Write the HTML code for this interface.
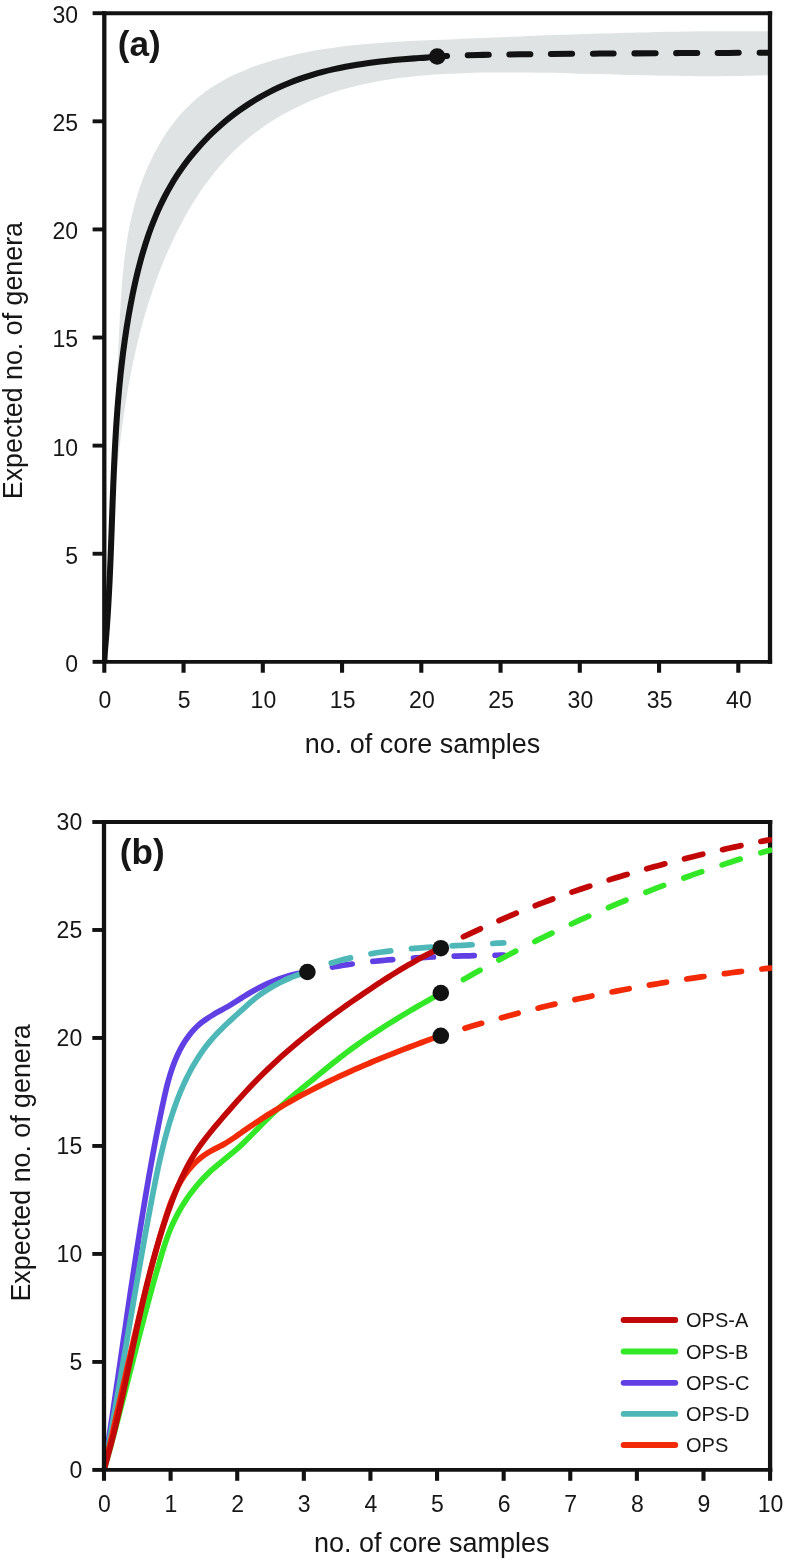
<!DOCTYPE html>
<html><head><meta charset="utf-8"><title>Rarefaction curves</title>
<style>
html,body{margin:0;padding:0;background:#fff;}
body{width:786px;height:1561px;overflow:hidden;}
svg{display:block;will-change:transform;}
.t{font-family:"Liberation Sans",sans-serif;fill:#161616;}
</style></head><body>
<svg width="786" height="1561" viewBox="0 0 786 1561" role="img" aria-label="Rarefaction curves: expected number of genera versus number of core samples">
<rect x="0" y="0" width="786" height="1561" fill="#ffffff"/>
<defs>
<clipPath id="ca"><rect x="102.30" y="11.20" width="669.70" height="652.65"/></clipPath>
<clipPath id="cb"><rect x="102.00" y="820.00" width="670.10" height="651.90"/></clipPath>
</defs>
<path d="M104.04,662.03 C104.20,659.81 104.69,653.17 104.99,648.76 C105.30,644.34 105.60,639.92 105.88,635.51 C106.17,631.10 106.45,626.70 106.72,622.30 C106.99,617.90 107.25,613.50 107.50,609.11 C107.75,604.72 107.99,600.33 108.23,595.94 C108.47,591.56 108.69,587.18 108.92,582.80 C109.14,578.42 109.35,574.05 109.56,569.67 C109.77,565.30 109.97,560.93 110.17,556.57 C110.37,552.20 110.56,547.84 110.75,543.47 C110.94,539.11 111.12,534.75 111.30,530.39 C111.48,526.03 111.65,521.68 111.82,517.32 C111.99,512.97 112.16,508.61 112.33,504.26 C112.49,499.91 112.66,495.56 112.82,491.21 C112.98,486.86 113.14,482.51 113.30,478.16 C113.45,473.81 113.61,469.46 113.77,465.11 C113.92,460.76 114.08,456.42 114.23,452.07 C114.39,447.72 114.55,443.37 114.70,439.02 C114.86,434.67 115.02,430.32 115.18,425.97 C115.34,421.62 115.50,417.26 115.66,412.91 C115.83,408.56 115.99,404.20 116.16,399.85 C116.33,395.49 116.50,391.13 116.67,386.77 C116.85,382.41 117.03,378.05 117.21,373.69 C117.39,369.32 117.58,364.96 117.77,360.59 C117.97,356.22 118.16,351.85 118.37,347.47 C118.57,343.10 118.78,338.72 119.00,334.34 C119.21,329.96 119.43,325.57 119.66,321.19 C119.89,316.80 120.13,312.41 120.38,308.01 C120.64,303.62 120.90,299.23 121.20,294.83 C121.50,290.44 121.82,286.05 122.18,281.66 C122.54,277.27 122.94,272.88 123.38,268.50 C123.83,264.13 124.32,259.75 124.87,255.39 C125.42,251.02 126.02,246.66 126.70,242.32 C127.38,237.97 128.12,233.63 128.94,229.31 C129.77,224.99 130.66,220.68 131.65,216.39 C132.64,212.09 133.71,207.81 134.88,203.56 C136.06,199.30 137.33,195.05 138.70,190.84 C140.07,186.64 141.54,182.45 143.12,178.32 C144.70,174.19 146.37,170.09 148.16,166.06 C149.94,162.04 151.83,158.05 153.83,154.15 C155.83,150.25 157.93,146.41 160.15,142.66 C162.37,138.91 164.70,135.23 167.14,131.67 C169.58,128.10 172.14,124.61 174.81,121.25 C177.48,117.89 180.27,114.62 183.18,111.49 C186.09,108.36 189.11,105.34 192.26,102.46 C195.40,99.59 198.68,96.84 202.06,94.24 C205.45,91.64 208.96,89.18 212.56,86.85 C216.16,84.51 219.88,82.31 223.67,80.23 C227.46,78.15 231.35,76.19 235.30,74.34 C239.25,72.49 243.28,70.76 247.36,69.13 C251.44,67.49 255.59,65.97 259.77,64.53 C263.95,63.09 268.18,61.76 272.43,60.51 C276.68,59.25 280.97,58.09 285.27,57.00 C289.56,55.91 293.87,54.90 298.18,53.96 C302.49,53.01 306.82,52.15 311.15,51.34 C315.47,50.53 319.81,49.79 324.15,49.10 C328.49,48.41 332.84,47.78 337.20,47.20 C341.55,46.62 345.91,46.10 350.27,45.61 C354.63,45.13 359.00,44.69 363.37,44.29 C367.74,43.88 372.11,43.52 376.49,43.18 C380.87,42.85 385.25,42.55 389.63,42.27 C394.00,41.99 398.39,41.74 402.77,41.50 C407.15,41.27 411.53,41.05 415.92,40.85 C420.30,40.64 424.68,40.45 429.06,40.26 C433.44,40.07 437.82,39.88 442.20,39.70 C446.57,39.51 450.95,39.33 455.32,39.14 C459.70,38.95 464.07,38.77 468.44,38.58 C472.81,38.40 477.18,38.21 481.54,38.02 C485.91,37.84 490.27,37.66 494.64,37.47 C499.00,37.29 503.37,37.11 507.73,36.93 C512.09,36.75 516.45,36.57 520.81,36.39 C525.17,36.22 529.53,36.04 533.89,35.87 C538.25,35.70 542.61,35.53 546.97,35.36 C551.33,35.19 555.69,35.03 560.05,34.87 C564.40,34.71 568.76,34.55 573.12,34.40 C577.48,34.24 581.84,34.09 586.20,33.95 C590.56,33.80 594.92,33.66 599.28,33.52 C603.64,33.39 608.00,33.25 612.36,33.13 C616.73,33.00 621.09,32.88 625.45,32.76 C629.82,32.64 634.18,32.53 638.55,32.42 C642.92,32.32 647.29,32.22 651.66,32.13 C656.03,32.03 660.40,31.95 664.77,31.86 C669.15,31.78 673.52,31.71 677.90,31.64 C682.28,31.58 686.66,31.52 691.04,31.47 C695.42,31.41 699.80,31.37 704.19,31.33 C708.58,31.30 712.97,31.27 717.36,31.25 C721.75,31.23 726.15,31.22 730.54,31.21 C734.94,31.21 739.34,31.22 743.75,31.23 C748.15,31.25 752.56,31.27 756.97,31.31 C761.38,31.34 768.00,31.42 770.21,31.44 L770.17,74.96 C768.09,75.04 761.86,75.30 757.71,75.44 C753.57,75.58 749.43,75.70 745.30,75.80 C741.17,75.89 737.04,75.97 732.92,76.03 C728.80,76.10 724.69,76.14 720.57,76.17 C716.46,76.20 712.36,76.21 708.26,76.21 C704.16,76.21 700.06,76.19 695.97,76.16 C691.87,76.13 687.78,76.09 683.70,76.04 C679.61,75.99 675.53,75.93 671.45,75.86 C667.37,75.79 663.29,75.71 659.22,75.63 C655.14,75.54 651.07,75.45 647.00,75.35 C642.92,75.25 638.85,75.15 634.79,75.04 C630.72,74.93 626.65,74.82 622.58,74.71 C618.51,74.60 614.45,74.48 610.38,74.37 C606.31,74.25 602.25,74.14 598.18,74.02 C594.11,73.91 590.04,73.80 585.98,73.69 C581.91,73.58 577.84,73.48 573.76,73.38 C569.69,73.28 565.62,73.18 561.54,73.09 C557.47,73.01 553.39,72.92 549.31,72.85 C545.23,72.78 541.15,72.71 537.06,72.66 C532.98,72.61 528.89,72.56 524.79,72.53 C520.70,72.50 516.60,72.48 512.50,72.47 C508.40,72.47 504.30,72.47 500.19,72.50 C496.08,72.52 491.96,72.56 487.84,72.62 C483.72,72.67 479.59,72.74 475.46,72.84 C471.33,72.93 467.19,73.04 463.06,73.18 C458.92,73.32 454.78,73.48 450.64,73.67 C446.50,73.87 442.36,74.09 438.23,74.35 C434.09,74.61 429.96,74.91 425.83,75.24 C421.71,75.58 417.59,75.96 413.48,76.38 C409.37,76.80 405.26,77.27 401.17,77.79 C397.08,78.31 393.00,78.88 388.94,79.51 C384.87,80.14 380.82,80.82 376.78,81.56 C372.75,82.31 368.73,83.11 364.73,83.98 C360.73,84.86 356.75,85.79 352.79,86.80 C348.84,87.82 344.90,88.89 340.99,90.05 C337.08,91.21 333.19,92.44 329.33,93.76 C325.47,95.08 321.64,96.48 317.84,97.96 C314.04,99.45 310.26,101.02 306.53,102.67 C302.80,104.33 299.09,106.07 295.44,107.89 C291.78,109.72 288.16,111.63 284.59,113.62 C281.03,115.61 277.50,117.69 274.04,119.85 C270.57,122.01 267.16,124.25 263.80,126.57 C260.45,128.89 257.15,131.30 253.92,133.79 C250.69,136.27 247.52,138.84 244.43,141.48 C241.33,144.13 238.31,146.86 235.36,149.66 C232.41,152.47 229.54,155.35 226.74,158.31 C223.95,161.27 221.24,164.31 218.59,167.41 C215.95,170.51 213.39,173.69 210.89,176.92 C208.39,180.15 205.97,183.44 203.61,186.79 C201.25,190.13 198.96,193.54 196.74,196.98 C194.51,200.43 192.36,203.92 190.26,207.46 C188.16,210.99 186.13,214.57 184.15,218.17 C182.17,221.77 180.26,225.42 178.40,229.08 C176.53,232.74 174.73,236.44 172.98,240.15 C171.22,243.85 169.53,247.58 167.88,251.33 C166.23,255.08 164.63,258.84 163.08,262.62 C161.53,266.40 160.04,270.20 158.58,274.02 C157.13,277.83 155.73,281.66 154.37,285.51 C153.01,289.35 151.69,293.21 150.42,297.09 C149.15,300.97 147.93,304.86 146.74,308.76 C145.55,312.66 144.41,316.58 143.31,320.51 C142.20,324.44 141.14,328.38 140.12,332.34 C139.09,336.29 138.10,340.26 137.15,344.23 C136.20,348.21 135.29,352.20 134.41,356.20 C133.52,360.19 132.68,364.20 131.87,368.22 C131.05,372.24 130.27,376.26 129.52,380.30 C128.77,384.33 128.05,388.38 127.36,392.43 C126.67,396.48 126.01,400.54 125.37,404.60 C124.74,408.67 124.13,412.74 123.54,416.82 C122.96,420.90 122.40,424.98 121.87,429.07 C121.33,433.16 120.82,437.25 120.33,441.35 C119.84,445.44 119.38,449.55 118.93,453.65 C118.48,457.75 118.05,461.86 117.64,465.97 C117.22,470.08 116.83,474.20 116.45,478.31 C116.08,482.42 115.71,486.54 115.37,490.66 C115.02,494.77 114.69,498.89 114.36,503.00 C114.04,507.12 113.73,511.24 113.43,515.35 C113.13,519.47 112.85,523.58 112.57,527.69 C112.29,531.80 112.01,535.92 111.75,540.02 C111.48,544.13 111.23,548.23 110.97,552.33 C110.72,556.43 110.47,560.53 110.23,564.62 C109.98,568.72 109.74,572.80 109.50,576.89 C109.25,580.97 109.02,585.05 108.77,589.12 C108.53,593.19 108.29,597.25 108.05,601.31 C107.80,605.37 107.56,609.42 107.30,613.46 C107.05,617.50 106.80,621.53 106.54,625.56 C106.27,629.58 106.01,633.60 105.73,637.61 C105.45,641.61 105.17,645.61 104.88,649.60 C104.58,653.58 104.11,659.53 103.96,661.52 Z" fill="#dfe3e3" stroke="none"/>
<line x1="102.15" y1="13.20" x2="772.15" y2="13.20" stroke="#121212" stroke-width="3.90"/>
<line x1="770.00" y1="11.25" x2="770.00" y2="663.80" stroke="#121212" stroke-width="4.30"/>
<g clip-path="url(#ca)">
<path d="M104.30,661.90 C104.42,659.98 104.71,654.23 104.99,650.38 C105.27,646.53 105.66,642.67 105.97,638.81 C106.28,634.95 106.58,631.10 106.86,627.25 C107.13,623.39 107.40,619.54 107.65,615.69 C107.90,611.84 108.13,608.00 108.36,604.15 C108.58,600.30 108.79,596.45 108.99,592.61 C109.19,588.77 109.38,584.92 109.57,581.08 C109.75,577.24 109.92,573.40 110.09,569.56 C110.26,565.72 110.42,561.88 110.57,558.04 C110.73,554.20 110.87,550.37 111.02,546.53 C111.16,542.70 111.30,538.86 111.44,535.03 C111.58,531.20 111.72,527.36 111.86,523.53 C111.99,519.70 112.13,515.87 112.27,512.04 C112.40,508.21 112.54,504.38 112.68,500.56 C112.83,496.73 112.97,492.90 113.12,489.08 C113.27,485.25 113.42,481.43 113.58,477.60 C113.74,473.78 113.90,469.96 114.07,466.14 C114.25,462.31 114.43,458.49 114.62,454.67 C114.81,450.85 115.01,447.03 115.22,443.21 C115.43,439.39 115.65,435.58 115.88,431.76 C116.12,427.94 116.36,424.12 116.62,420.31 C116.88,416.49 117.16,412.67 117.45,408.86 C117.74,405.04 118.05,401.23 118.37,397.41 C118.70,393.60 119.04,389.79 119.40,385.97 C119.76,382.16 120.14,378.35 120.54,374.54 C120.94,370.72 121.37,366.91 121.81,363.10 C122.26,359.29 122.72,355.48 123.21,351.67 C123.71,347.86 124.22,344.05 124.76,340.24 C125.30,336.43 125.87,332.62 126.46,328.81 C127.06,325.00 127.68,321.19 128.33,317.38 C128.98,313.57 129.66,309.76 130.37,305.96 C131.08,302.15 131.82,298.34 132.60,294.53 C133.38,290.73 134.18,286.92 135.03,283.12 C135.88,279.33 136.76,275.54 137.69,271.76 C138.62,267.98 139.59,264.21 140.61,260.46 C141.63,256.71 142.70,252.98 143.82,249.27 C144.94,245.56 146.11,241.86 147.34,238.20 C148.57,234.53 149.86,230.89 151.21,227.28 C152.56,223.67 153.97,220.09 155.45,216.54 C156.93,213.00 158.47,209.49 160.09,206.02 C161.71,202.55 163.40,199.11 165.16,195.73 C166.93,192.34 168.77,189.00 170.69,185.70 C172.61,182.41 174.61,179.16 176.68,175.97 C178.75,172.77 180.90,169.63 183.12,166.54 C185.34,163.45 187.64,160.41 190.00,157.42 C192.37,154.44 194.80,151.51 197.30,148.65 C199.80,145.78 202.37,142.97 205.00,140.22 C207.63,137.47 210.33,134.78 213.09,132.16 C215.84,129.54 218.66,126.97 221.54,124.48 C224.42,121.99 227.36,119.56 230.35,117.20 C233.34,114.84 236.39,112.55 239.50,110.33 C242.60,108.12 245.76,105.97 248.96,103.89 C252.17,101.82 255.43,99.82 258.73,97.90 C262.04,95.98 265.39,94.13 268.79,92.37 C272.19,90.60 275.64,88.91 279.12,87.31 C282.61,85.70 286.14,84.18 289.71,82.74 C293.28,81.30 296.89,79.95 300.53,78.67 C304.17,77.39 307.85,76.20 311.56,75.07 C315.26,73.95 319.00,72.90 322.76,71.91 C326.51,70.93 330.30,70.02 334.10,69.16 C337.89,68.30 341.71,67.51 345.54,66.77 C349.37,66.04 353.21,65.36 357.06,64.73 C360.91,64.09 364.77,63.52 368.62,62.98 C372.48,62.45 376.34,61.96 380.19,61.51 C384.04,61.05 387.90,60.65 391.74,60.27 C395.57,59.89 399.41,59.55 403.22,59.23 C407.04,58.91 410.84,58.63 414.62,58.36 C418.40,58.09 422.13,57.93 425.89,57.62 C429.65,57.31 435.31,56.69 437.20,56.50" fill="none" stroke="#121212" stroke-width="6.05" stroke-linecap="butt" stroke-linejoin="round"/>
<path d="M437.20,56.50 C439.32,56.38 443.10,56.05 449.90,55.80 C456.70,55.55 466.32,55.25 478.00,55.00 C489.68,54.75 499.67,54.53 520.00,54.30 C540.33,54.07 573.33,53.80 600.00,53.60 C626.67,53.40 658.67,53.22 680.00,53.10 C701.33,52.98 712.98,52.97 728.00,52.90 C743.02,52.83 763.08,52.73 770.10,52.70" fill="none" stroke="#121212" stroke-width="6.05" stroke-linecap="round" stroke-dasharray="21 20.65" stroke-dashoffset="11.0"/>
<circle cx="437.2" cy="56.5" r="8.3" fill="#121212"/>
</g>
<line x1="104.30" y1="11.25" x2="104.30" y2="663.80" stroke="#121212" stroke-width="4.30"/>
<line x1="102.15" y1="661.85" x2="772.15" y2="661.85" stroke="#121212" stroke-width="3.90"/>
<line x1="92.60" y1="661.85" x2="104.30" y2="661.85" stroke="#121212" stroke-width="3.90"/>
<line x1="92.60" y1="553.74" x2="104.30" y2="553.74" stroke="#121212" stroke-width="3.90"/>
<line x1="92.60" y1="445.63" x2="104.30" y2="445.63" stroke="#121212" stroke-width="3.90"/>
<line x1="92.60" y1="337.53" x2="104.30" y2="337.53" stroke="#121212" stroke-width="3.90"/>
<line x1="92.60" y1="229.42" x2="104.30" y2="229.42" stroke="#121212" stroke-width="3.90"/>
<line x1="92.60" y1="121.31" x2="104.30" y2="121.31" stroke="#121212" stroke-width="3.90"/>
<line x1="92.60" y1="13.20" x2="104.30" y2="13.20" stroke="#121212" stroke-width="3.90"/>
<line x1="104.30" y1="661.85" x2="104.30" y2="672.75" stroke="#121212" stroke-width="4.10"/>
<line x1="183.55" y1="661.85" x2="183.55" y2="672.75" stroke="#121212" stroke-width="4.10"/>
<line x1="262.80" y1="661.85" x2="262.80" y2="672.75" stroke="#121212" stroke-width="4.10"/>
<line x1="342.05" y1="661.85" x2="342.05" y2="672.75" stroke="#121212" stroke-width="4.10"/>
<line x1="421.30" y1="661.85" x2="421.30" y2="672.75" stroke="#121212" stroke-width="4.10"/>
<line x1="500.55" y1="661.85" x2="500.55" y2="672.75" stroke="#121212" stroke-width="4.10"/>
<line x1="579.80" y1="661.85" x2="579.80" y2="672.75" stroke="#121212" stroke-width="4.10"/>
<line x1="659.05" y1="661.85" x2="659.05" y2="672.75" stroke="#121212" stroke-width="4.10"/>
<line x1="738.30" y1="661.85" x2="738.30" y2="672.75" stroke="#121212" stroke-width="4.10"/>
<line x1="101.85" y1="822.00" x2="772.25" y2="822.00" stroke="#121212" stroke-width="3.90"/>
<line x1="770.10" y1="820.05" x2="770.10" y2="1471.85" stroke="#121212" stroke-width="4.30"/>
<g clip-path="url(#cb)">
<path d="M104.00,1469.90 C104.17,1468.83 104.68,1465.60 105.02,1463.46 C105.36,1461.31 105.69,1459.17 106.03,1457.02 C106.36,1454.87 106.69,1452.72 107.02,1450.58 C107.35,1448.43 107.68,1446.28 108.01,1444.13 C108.34,1441.98 108.67,1439.83 109.00,1437.68 C109.33,1435.53 109.65,1433.38 109.98,1431.23 C110.30,1429.08 110.63,1426.93 110.95,1424.78 C111.27,1422.63 111.60,1420.48 111.92,1418.32 C112.24,1416.17 112.56,1414.02 112.88,1411.87 C113.20,1409.72 113.52,1407.56 113.84,1405.41 C114.16,1403.26 114.48,1401.10 114.80,1398.95 C115.12,1396.80 115.44,1394.64 115.75,1392.49 C116.07,1390.33 116.39,1388.18 116.70,1386.02 C117.02,1383.87 117.34,1381.71 117.65,1379.56 C117.97,1377.40 118.28,1375.25 118.60,1373.09 C118.91,1370.94 119.23,1368.78 119.54,1366.63 C119.86,1364.47 120.17,1362.32 120.49,1360.16 C120.80,1358.01 121.12,1355.85 121.43,1353.69 C121.75,1351.54 122.06,1349.38 122.38,1347.23 C122.69,1345.07 123.01,1342.91 123.32,1340.76 C123.64,1338.60 123.95,1336.45 124.27,1334.29 C124.58,1332.13 124.90,1329.98 125.21,1327.82 C125.53,1325.67 125.84,1323.51 126.16,1321.35 C126.48,1319.20 126.79,1317.04 127.11,1314.89 C127.43,1312.73 127.75,1310.58 128.07,1308.42 C128.38,1306.27 128.70,1304.11 129.02,1301.95 C129.34,1299.80 129.66,1297.64 129.98,1295.49 C130.30,1293.34 130.62,1291.18 130.95,1289.03 C131.27,1286.87 131.59,1284.72 131.92,1282.56 C132.24,1280.41 132.56,1278.26 132.89,1276.10 C133.22,1273.95 133.54,1271.80 133.87,1269.64 C134.20,1267.49 134.52,1265.34 134.85,1263.18 C135.18,1261.03 135.51,1258.88 135.85,1256.73 C136.18,1254.58 136.51,1252.43 136.84,1250.27 C137.18,1248.12 137.51,1245.97 137.85,1243.82 C138.19,1241.67 138.52,1239.52 138.86,1237.37 C139.20,1235.22 139.54,1233.08 139.88,1230.93 C140.23,1228.78 140.57,1226.63 140.92,1224.48 C141.26,1222.33 141.61,1220.19 141.95,1218.04 C142.30,1215.89 142.65,1213.75 143.00,1211.60 C143.35,1209.46 143.71,1207.31 144.06,1205.17 C144.42,1203.02 144.77,1200.88 145.13,1198.74 C145.49,1196.59 145.85,1194.45 146.21,1192.31 C146.57,1190.17 146.94,1188.02 147.30,1185.88 C147.67,1183.74 148.04,1181.60 148.41,1179.46 C148.78,1177.32 149.15,1175.18 149.53,1173.04 C149.91,1170.90 150.28,1168.76 150.67,1166.62 C151.05,1164.48 151.43,1162.34 151.82,1160.20 C152.21,1158.07 152.60,1155.93 152.99,1153.79 C153.38,1151.65 153.78,1149.51 154.18,1147.37 C154.58,1145.24 154.98,1143.10 155.39,1140.96 C155.80,1138.82 156.21,1136.68 156.62,1134.55 C157.04,1132.41 157.46,1130.27 157.88,1128.13 C158.30,1125.99 158.73,1123.86 159.16,1121.72 C159.59,1119.58 160.02,1117.44 160.46,1115.30 C160.90,1113.16 161.35,1111.02 161.80,1108.88 C162.24,1106.75 162.69,1104.60 163.15,1102.47 C163.62,1100.33 164.08,1098.19 164.56,1096.05 C165.04,1093.92 165.53,1091.79 166.04,1089.66 C166.56,1087.54 167.08,1085.42 167.64,1083.31 C168.20,1081.20 168.78,1079.10 169.39,1077.01 C170.00,1074.92 170.64,1072.85 171.32,1070.78 C172.00,1068.72 172.71,1066.67 173.47,1064.64 C174.23,1062.61 175.03,1060.60 175.88,1058.60 C176.73,1056.61 177.62,1054.63 178.57,1052.68 C179.52,1050.73 180.53,1048.79 181.59,1046.90 C182.65,1045.00 183.77,1043.13 184.95,1041.30 C186.13,1039.48 187.37,1037.69 188.67,1035.96 C189.98,1034.23 191.34,1032.55 192.78,1030.94 C194.21,1029.33 195.70,1027.77 197.27,1026.29 C198.84,1024.82 200.48,1023.42 202.17,1022.09 C203.87,1020.76 205.65,1019.52 207.45,1018.31 C209.26,1017.10 211.12,1015.97 213.00,1014.85 C214.88,1013.72 216.80,1012.65 218.71,1011.57 C220.62,1010.49 222.56,1009.45 224.47,1008.37 C226.38,1007.29 228.29,1006.22 230.17,1005.11 C232.05,1004.00 233.90,1002.85 235.74,1001.70 C237.58,1000.55 239.39,999.37 241.22,998.22 C243.05,997.06 244.87,995.89 246.72,994.76 C248.57,993.63 250.43,992.52 252.31,991.44 C254.20,990.37 256.11,989.32 258.03,988.31 C259.96,987.30 261.90,986.32 263.86,985.37 C265.83,984.43 267.81,983.52 269.81,982.66 C271.81,981.79 273.82,980.96 275.86,980.18 C277.89,979.40 279.94,978.65 282.00,977.96 C284.06,977.26 286.14,976.61 288.23,976.01 C290.33,975.41 292.43,974.85 294.55,974.35 C296.67,973.85 298.81,973.39 300.95,973.00 C303.09,972.61 306.32,972.17 307.40,972.00" fill="none" stroke="#6040e5" stroke-width="5.70" stroke-linecap="butt" stroke-linejoin="round"/>
<path d="M307.40,972.00 C308.51,971.76 311.84,971.02 314.06,970.56 C316.28,970.09 318.51,969.65 320.74,969.21 C322.97,968.78 325.20,968.36 327.43,967.95 C329.67,967.55 331.90,967.15 334.14,966.77 C336.38,966.39 338.61,966.03 340.85,965.68 C343.09,965.32 345.34,964.98 347.58,964.65 C349.82,964.33 352.07,964.01 354.31,963.71 C356.56,963.40 358.81,963.11 361.06,962.83 C363.31,962.55 365.56,962.28 367.81,962.02 C370.06,961.76 372.32,961.51 374.57,961.27 C376.83,961.03 379.08,960.80 381.34,960.58 C383.60,960.36 385.85,960.15 388.11,959.95 C390.37,959.75 392.63,959.56 394.89,959.38 C397.16,959.20 399.42,959.02 401.68,958.86 C403.94,958.69 406.21,958.53 408.47,958.38 C410.73,958.23 413.00,958.09 415.26,957.96 C417.53,957.82 419.80,957.69 422.06,957.57 C424.33,957.45 426.60,957.33 428.86,957.22 C431.13,957.11 433.40,957.01 435.67,956.91 C437.94,956.81 440.20,956.72 442.47,956.63 C444.74,956.55 447.01,956.46 449.28,956.39 C451.55,956.31 453.82,956.23 456.08,956.17 C458.35,956.10 460.62,956.03 462.89,955.97 C465.16,955.91 467.43,955.85 469.70,955.79 C471.97,955.73 474.23,955.68 476.50,955.63 C478.77,955.58 481.04,955.53 483.30,955.49 C485.57,955.44 487.84,955.40 490.10,955.35 C492.37,955.31 494.64,955.27 496.90,955.23 C499.17,955.19 502.57,955.12 503.70,955.10" fill="none" stroke="#6040e5" stroke-width="5.70" stroke-linecap="round" stroke-dasharray="0 25.50 20.00 20.80 20.00 20.80 20.00 20.80 20.00 20.80 20.00 20.80 20.00 20.80 20.00 20.80 20.00 20.80 20.00 20.80 20.00 20.80 20.00 20.80 20.00 20.80 20.00 20.80 20.00 20.80"/>
<path d="M104.00,1469.90 C104.20,1468.86 104.80,1465.73 105.19,1463.64 C105.58,1461.55 105.97,1459.46 106.36,1457.37 C106.75,1455.28 107.14,1453.19 107.52,1451.11 C107.91,1449.02 108.29,1446.93 108.68,1444.84 C109.06,1442.75 109.44,1440.66 109.82,1438.57 C110.20,1436.48 110.58,1434.39 110.95,1432.30 C111.33,1430.21 111.70,1428.12 112.08,1426.03 C112.45,1423.94 112.82,1421.85 113.19,1419.76 C113.57,1417.67 113.94,1415.58 114.31,1413.49 C114.67,1411.40 115.04,1409.31 115.41,1407.22 C115.78,1405.13 116.14,1403.04 116.51,1400.96 C116.87,1398.87 117.23,1396.78 117.60,1394.69 C117.96,1392.60 118.32,1390.51 118.68,1388.42 C119.05,1386.33 119.41,1384.24 119.77,1382.15 C120.13,1380.06 120.49,1377.97 120.85,1375.88 C121.20,1373.79 121.56,1371.70 121.92,1369.61 C122.28,1367.52 122.64,1365.43 122.99,1363.34 C123.35,1361.25 123.71,1359.16 124.06,1357.07 C124.42,1354.98 124.77,1352.89 125.13,1350.80 C125.48,1348.71 125.84,1346.62 126.20,1344.53 C126.55,1342.44 126.91,1340.35 127.26,1338.26 C127.62,1336.17 127.97,1334.08 128.33,1331.99 C128.68,1329.90 129.04,1327.81 129.39,1325.72 C129.75,1323.63 130.10,1321.54 130.46,1319.45 C130.81,1317.36 131.17,1315.27 131.53,1313.18 C131.88,1311.09 132.24,1309.01 132.59,1306.92 C132.95,1304.83 133.31,1302.74 133.67,1300.65 C134.02,1298.56 134.38,1296.47 134.74,1294.38 C135.10,1292.29 135.46,1290.20 135.82,1288.11 C136.18,1286.03 136.54,1283.94 136.90,1281.85 C137.26,1279.76 137.63,1277.67 137.99,1275.58 C138.35,1273.49 138.72,1271.40 139.08,1269.32 C139.45,1267.23 139.81,1265.14 140.18,1263.05 C140.55,1260.96 140.91,1258.87 141.28,1256.79 C141.65,1254.70 142.02,1252.61 142.39,1250.52 C142.77,1248.44 143.14,1246.35 143.51,1244.26 C143.89,1242.17 144.26,1240.08 144.64,1238.00 C145.01,1235.91 145.39,1233.82 145.77,1231.74 C146.15,1229.65 146.53,1227.56 146.92,1225.47 C147.30,1223.39 147.68,1221.30 148.07,1219.21 C148.45,1217.13 148.84,1215.04 149.23,1212.95 C149.62,1210.87 150.01,1208.78 150.40,1206.70 C150.80,1204.61 151.19,1202.52 151.59,1200.44 C151.98,1198.35 152.38,1196.27 152.78,1194.18 C153.18,1192.10 153.59,1190.01 154.00,1187.93 C154.41,1185.84 154.82,1183.76 155.23,1181.68 C155.65,1179.59 156.07,1177.51 156.50,1175.43 C156.93,1173.35 157.37,1171.27 157.81,1169.20 C158.25,1167.12 158.70,1165.05 159.16,1162.97 C159.62,1160.90 160.09,1158.83 160.57,1156.76 C161.04,1154.69 161.53,1152.63 162.03,1150.56 C162.52,1148.50 163.03,1146.44 163.55,1144.38 C164.07,1142.32 164.60,1140.27 165.14,1138.22 C165.69,1136.17 166.24,1134.12 166.82,1132.07 C167.39,1130.03 167.97,1127.99 168.57,1125.95 C169.17,1123.91 169.79,1121.88 170.42,1119.85 C171.05,1117.82 171.69,1115.80 172.36,1113.78 C173.03,1111.76 173.71,1109.75 174.41,1107.74 C175.11,1105.74 175.83,1103.74 176.57,1101.75 C177.31,1099.76 178.07,1097.78 178.85,1095.80 C179.64,1093.83 180.44,1091.87 181.27,1089.92 C182.10,1087.97 182.94,1086.04 183.82,1084.11 C184.69,1082.19 185.59,1080.27 186.52,1078.38 C187.44,1076.48 188.39,1074.60 189.37,1072.73 C190.35,1070.86 191.35,1069.01 192.38,1067.18 C193.42,1065.34 194.48,1063.53 195.57,1061.73 C196.66,1059.93 197.78,1058.15 198.93,1056.39 C200.08,1054.64 201.27,1052.90 202.48,1051.18 C203.70,1049.46 204.95,1047.77 206.23,1046.10 C207.51,1044.42 208.83,1042.77 210.18,1041.15 C211.53,1039.53 212.92,1037.93 214.34,1036.35 C215.76,1034.78 217.22,1033.23 218.70,1031.70 C220.19,1030.17 221.70,1028.67 223.23,1027.17 C224.76,1025.68 226.32,1024.21 227.88,1022.75 C229.45,1021.28 231.03,1019.84 232.61,1018.39 C234.19,1016.95 235.78,1015.52 237.37,1014.09 C238.95,1012.66 240.53,1011.24 242.11,1009.81 C243.68,1008.39 245.24,1006.96 246.82,1005.56 C248.40,1004.15 249.96,1002.75 251.57,1001.38 C253.18,1000.02 254.79,998.68 256.45,997.38 C258.11,996.08 259.80,994.82 261.52,993.60 C263.25,992.37 265.00,991.19 266.78,990.05 C268.56,988.90 270.37,987.80 272.20,986.73 C274.04,985.67 275.90,984.65 277.78,983.66 C279.66,982.68 281.57,981.73 283.50,980.83 C285.42,979.93 287.37,979.07 289.34,978.25 C291.30,977.43 293.28,976.65 295.28,975.91 C297.28,975.18 299.30,974.48 301.32,973.83 C303.34,973.18 306.39,972.30 307.40,972.00" fill="none" stroke="#4eb8b8" stroke-width="5.70" stroke-linecap="butt" stroke-linejoin="round"/>
<path d="M307.40,972.00 C308.46,971.53 311.62,970.08 313.76,969.21 C315.89,968.34 318.06,967.56 320.22,966.78 C322.38,966.00 324.55,965.26 326.73,964.54 C328.91,963.83 331.09,963.14 333.28,962.48 C335.47,961.82 337.67,961.19 339.88,960.59 C342.08,959.99 344.29,959.41 346.51,958.86 C348.73,958.31 350.95,957.78 353.18,957.28 C355.41,956.78 357.64,956.30 359.88,955.85 C362.12,955.39 364.36,954.96 366.61,954.54 C368.86,954.13 371.11,953.74 373.37,953.37 C375.63,952.99 377.89,952.64 380.15,952.30 C382.42,951.97 384.69,951.65 386.96,951.35 C389.23,951.05 391.51,950.76 393.79,950.49 C396.07,950.22 398.35,949.96 400.63,949.72 C402.92,949.48 405.20,949.25 407.49,949.03 C409.78,948.81 412.07,948.61 414.36,948.41 C416.66,948.22 418.95,948.03 421.25,947.85 C423.54,947.68 425.84,947.51 428.14,947.35 C430.43,947.19 432.73,947.04 435.03,946.89 C437.33,946.74 439.63,946.60 441.92,946.46 C444.22,946.32 446.52,946.19 448.82,946.06 C451.12,945.93 453.42,945.80 455.71,945.67 C458.01,945.54 460.30,945.42 462.60,945.29 C464.89,945.17 467.19,945.04 469.48,944.91 C471.77,944.79 474.06,944.66 476.34,944.52 C478.63,944.39 480.92,944.25 483.20,944.11 C485.48,943.97 487.76,943.83 490.04,943.67 C492.31,943.52 494.58,943.34 496.86,943.20 C499.13,943.05 502.56,942.87 503.70,942.80" fill="none" stroke="#4eb8b8" stroke-width="5.70" stroke-linecap="round" stroke-dasharray="0 25.50 20.00 20.80 20.00 20.80 20.00 20.80 20.00 20.80 20.00 20.80 20.00 20.80 20.00 20.80 20.00 20.80 20.00 20.80 20.00 20.80 20.00 20.80 20.00 20.80 20.00 20.80 20.00 20.80"/>
<path d="M104.00,1469.90 C104.32,1468.80 105.27,1465.48 105.89,1463.27 C106.52,1461.06 107.14,1458.85 107.76,1456.64 C108.37,1454.42 108.99,1452.21 109.60,1450.00 C110.21,1447.78 110.81,1445.56 111.42,1443.35 C112.02,1441.13 112.62,1438.91 113.21,1436.69 C113.81,1434.48 114.41,1432.26 115.00,1430.04 C115.59,1427.82 116.18,1425.60 116.76,1423.37 C117.35,1421.15 117.93,1418.93 118.51,1416.71 C119.10,1414.49 119.68,1412.26 120.26,1410.04 C120.83,1407.82 121.41,1405.59 121.98,1403.37 C122.56,1401.14 123.13,1398.92 123.71,1396.69 C124.28,1394.47 124.85,1392.24 125.42,1390.02 C125.99,1387.79 126.56,1385.56 127.13,1383.34 C127.70,1381.11 128.27,1378.89 128.83,1376.66 C129.40,1374.43 129.97,1372.21 130.54,1369.98 C131.11,1367.75 131.67,1365.53 132.24,1363.30 C132.81,1361.07 133.38,1358.85 133.95,1356.62 C134.52,1354.40 135.09,1352.17 135.66,1349.95 C136.23,1347.72 136.80,1345.50 137.37,1343.27 C137.95,1341.05 138.52,1338.82 139.09,1336.60 C139.67,1334.37 140.25,1332.15 140.82,1329.93 C141.40,1327.70 141.98,1325.48 142.57,1323.26 C143.15,1321.04 143.73,1318.82 144.32,1316.60 C144.91,1314.37 145.50,1312.15 146.09,1309.94 C146.68,1307.72 147.27,1305.50 147.87,1303.28 C148.47,1301.06 149.07,1298.85 149.67,1296.63 C150.28,1294.41 150.88,1292.20 151.49,1289.99 C152.10,1287.77 152.72,1285.56 153.33,1283.35 C153.95,1281.14 154.57,1278.93 155.20,1276.72 C155.82,1274.51 156.45,1272.30 157.09,1270.09 C157.72,1267.89 158.36,1265.68 159.00,1263.48 C159.65,1261.27 160.29,1259.07 160.95,1256.87 C161.60,1254.67 162.26,1252.47 162.94,1250.28 C163.63,1248.09 164.32,1245.90 165.04,1243.72 C165.77,1241.54 166.51,1239.37 167.30,1237.22 C168.08,1235.06 168.89,1232.92 169.76,1230.79 C170.62,1228.66 171.52,1226.54 172.46,1224.45 C173.41,1222.35 174.39,1220.27 175.42,1218.21 C176.45,1216.16 177.52,1214.12 178.63,1212.10 C179.75,1210.09 180.90,1208.09 182.09,1206.13 C183.28,1204.16 184.52,1202.22 185.79,1200.31 C187.06,1198.40 188.38,1196.51 189.73,1194.66 C191.08,1192.80 192.47,1190.98 193.89,1189.18 C195.32,1187.39 196.78,1185.63 198.28,1183.90 C199.78,1182.17 201.32,1180.47 202.89,1178.81 C204.46,1177.14 206.07,1175.51 207.71,1173.92 C209.35,1172.32 211.03,1170.77 212.74,1169.24 C214.44,1167.71 216.18,1166.23 217.93,1164.75 C219.68,1163.27 221.46,1161.82 223.23,1160.36 C225.00,1158.91 226.79,1157.47 228.56,1156.01 C230.33,1154.55 232.10,1153.09 233.85,1151.60 C235.59,1150.11 237.32,1148.61 239.03,1147.07 C240.73,1145.53 242.40,1143.96 244.05,1142.37 C245.71,1140.78 247.34,1139.16 248.96,1137.53 C250.59,1135.91 252.20,1134.26 253.80,1132.62 C255.41,1130.98 257.01,1129.32 258.62,1127.68 C260.22,1126.03 261.83,1124.38 263.45,1122.75 C265.07,1121.12 266.69,1119.50 268.34,1117.90 C269.98,1116.30 271.64,1114.72 273.32,1113.15 C274.99,1111.59 276.68,1110.04 278.38,1108.50 C280.09,1106.97 281.80,1105.45 283.53,1103.94 C285.25,1102.43 286.99,1100.93 288.73,1099.44 C290.47,1097.95 292.22,1096.48 293.98,1095.00 C295.74,1093.53 297.51,1092.07 299.27,1090.60 C301.04,1089.14 302.82,1087.68 304.59,1086.23 C306.37,1084.77 308.14,1083.32 309.92,1081.87 C311.70,1080.41 313.48,1078.96 315.26,1077.50 C317.03,1076.04 318.81,1074.59 320.59,1073.13 C322.37,1071.68 324.16,1070.23 325.94,1068.78 C327.73,1067.33 329.52,1065.89 331.31,1064.45 C333.11,1063.02 334.90,1061.58 336.71,1060.16 C338.52,1058.74 340.33,1057.33 342.15,1055.93 C343.97,1054.53 345.80,1053.14 347.64,1051.77 C349.47,1050.39 351.32,1049.03 353.18,1047.68 C355.03,1046.34 356.90,1045.00 358.77,1043.68 C360.64,1042.35 362.53,1041.04 364.42,1039.74 C366.31,1038.44 368.20,1037.15 370.11,1035.87 C372.01,1034.59 373.92,1033.32 375.84,1032.06 C377.76,1030.81 379.68,1029.56 381.62,1028.32 C383.55,1027.08 385.48,1025.85 387.43,1024.62 C389.37,1023.40 391.32,1022.19 393.27,1020.98 C395.23,1019.78 397.19,1018.58 399.15,1017.38 C401.11,1016.19 403.08,1015.01 405.05,1013.83 C407.02,1012.65 409.00,1011.48 410.98,1010.31 C412.96,1009.14 414.94,1007.98 416.93,1006.82 C418.92,1005.66 420.90,1004.51 422.90,1003.36 C424.89,1002.21 426.88,1001.07 428.88,999.92 C430.87,998.78 432.88,997.66 434.87,996.51 C436.86,995.35 439.81,993.58 440.80,993.00" fill="none" stroke="#33e826" stroke-width="5.70" stroke-linecap="butt" stroke-linejoin="round"/>
<path d="M440.80,993.00 C442.11,992.19 446.03,989.75 448.67,988.17 C451.31,986.59 453.97,985.05 456.63,983.51 C459.29,981.96 461.96,980.43 464.63,978.90 C467.30,977.37 469.97,975.86 472.65,974.35 C475.33,972.84 478.02,971.34 480.71,969.85 C483.40,968.36 486.10,966.88 488.80,965.41 C491.50,963.94 494.21,962.47 496.92,961.02 C499.63,959.57 502.34,958.12 505.07,956.69 C507.79,955.26 510.51,953.83 513.24,952.41 C515.97,951.00 518.71,949.59 521.45,948.19 C524.19,946.79 526.94,945.41 529.69,944.03 C532.44,942.65 535.19,941.28 537.95,939.92 C540.71,938.55 543.47,937.20 546.24,935.86 C549.01,934.52 551.78,933.18 554.56,931.86 C557.34,930.54 560.12,929.22 562.91,927.92 C565.69,926.61 568.48,925.31 571.28,924.03 C574.07,922.74 576.87,921.46 579.68,920.19 C582.48,918.93 585.29,917.67 588.10,916.42 C590.91,915.17 593.73,913.93 596.55,912.70 C599.37,911.46 602.19,910.24 605.02,909.03 C607.85,907.82 610.68,906.61 613.52,905.42 C616.35,904.23 619.19,903.04 622.04,901.87 C624.88,900.69 627.73,899.53 630.58,898.37 C633.43,897.21 636.29,896.07 639.15,894.93 C642.01,893.79 644.87,892.66 647.74,891.54 C650.60,890.42 653.47,889.31 656.35,888.21 C659.22,887.11 662.10,886.02 664.98,884.94 C667.86,883.86 670.74,882.79 673.63,881.72 C676.52,880.66 679.41,879.61 682.30,878.56 C685.20,877.52 688.10,876.49 691.00,875.46 C693.90,874.44 696.80,873.42 699.71,872.41 C702.62,871.41 705.53,870.41 708.44,869.42 C711.35,868.44 714.27,867.46 717.19,866.49 C720.11,865.52 723.03,864.56 725.96,863.61 C728.88,862.66 731.81,861.72 734.74,860.79 C737.67,859.86 740.61,858.94 743.55,858.03 C746.48,857.12 749.42,856.21 752.36,855.32 C755.31,854.43 758.24,853.53 761.20,852.67 C764.16,851.82 768.62,850.61 770.10,850.20" fill="none" stroke="#33e826" stroke-width="5.70" stroke-linecap="round" stroke-dasharray="0 26.30 19.00 21.50 19.00 21.50 19.00 21.50 19.00 21.50 19.00 21.50 19.00 21.50 19.00 21.50 19.00 21.50 19.00 21.50 19.00 21.50 19.00 21.50 19.00 21.50 19.00 21.50 19.00 21.50"/>
<path d="M104.00,1469.90 C104.26,1468.80 105.06,1465.49 105.58,1463.28 C106.10,1461.07 106.60,1458.86 107.11,1456.65 C107.62,1454.44 108.13,1452.23 108.63,1450.02 C109.14,1447.81 109.64,1445.60 110.14,1443.40 C110.65,1441.19 111.15,1438.99 111.65,1436.79 C112.14,1434.58 112.64,1432.38 113.14,1430.18 C113.64,1427.98 114.13,1425.78 114.63,1423.58 C115.12,1421.38 115.62,1419.18 116.11,1416.99 C116.60,1414.79 117.10,1412.59 117.59,1410.40 C118.08,1408.20 118.57,1406.01 119.07,1403.82 C119.56,1401.62 120.05,1399.43 120.54,1397.24 C121.03,1395.05 121.53,1392.86 122.02,1390.67 C122.51,1388.48 123.00,1386.29 123.50,1384.10 C123.99,1381.91 124.48,1379.72 124.98,1377.54 C125.47,1375.35 125.97,1373.16 126.46,1370.98 C126.96,1368.79 127.45,1366.61 127.95,1364.42 C128.45,1362.24 128.95,1360.05 129.45,1357.87 C129.95,1355.69 130.45,1353.50 130.95,1351.32 C131.45,1349.14 131.96,1346.96 132.46,1344.77 C132.97,1342.59 133.48,1340.41 133.99,1338.23 C134.50,1336.05 135.01,1333.87 135.52,1331.69 C136.04,1329.51 136.55,1327.33 137.07,1325.15 C137.59,1322.97 138.11,1320.79 138.64,1318.61 C139.16,1316.43 139.68,1314.25 140.21,1312.07 C140.74,1309.89 141.27,1307.72 141.81,1305.54 C142.34,1303.36 142.88,1301.18 143.42,1299.00 C143.96,1296.82 144.51,1294.65 145.06,1292.47 C145.60,1290.29 146.16,1288.11 146.71,1285.93 C147.27,1283.75 147.82,1281.58 148.39,1279.40 C148.95,1277.22 149.52,1275.04 150.09,1272.86 C150.66,1270.68 151.23,1268.50 151.81,1266.32 C152.39,1264.15 152.97,1261.97 153.56,1259.79 C154.15,1257.61 154.74,1255.43 155.34,1253.25 C155.94,1251.07 156.54,1248.89 157.14,1246.71 C157.75,1244.53 158.36,1242.35 158.98,1240.16 C159.60,1237.98 160.22,1235.80 160.85,1233.62 C161.47,1231.44 162.10,1229.25 162.75,1227.07 C163.39,1224.89 164.03,1222.71 164.70,1220.53 C165.36,1218.36 166.04,1216.19 166.74,1214.03 C167.44,1211.88 168.16,1209.73 168.91,1207.60 C169.67,1205.47 170.44,1203.35 171.26,1201.26 C172.08,1199.17 172.92,1197.09 173.82,1195.04 C174.72,1193.00 175.65,1190.97 176.64,1188.98 C177.62,1186.99 178.65,1185.02 179.75,1183.10 C180.84,1181.17 181.99,1179.28 183.20,1177.43 C184.41,1175.58 185.68,1173.76 187.03,1172.00 C188.38,1170.23 189.79,1168.50 191.28,1166.84 C192.77,1165.17 194.34,1163.54 195.97,1161.99 C197.60,1160.45 199.31,1158.95 201.07,1157.56 C202.84,1156.16 204.67,1154.84 206.56,1153.61 C208.45,1152.39 210.43,1151.30 212.40,1150.21 C214.37,1149.13 216.42,1148.16 218.41,1147.11 C220.40,1146.06 222.40,1145.03 224.35,1143.91 C226.30,1142.79 228.20,1141.60 230.09,1140.39 C231.98,1139.18 233.83,1137.90 235.68,1136.63 C237.53,1135.36 239.36,1134.04 241.19,1132.74 C243.03,1131.45 244.85,1130.14 246.70,1128.85 C248.54,1127.56 250.39,1126.28 252.25,1125.02 C254.10,1123.76 255.97,1122.51 257.84,1121.27 C259.72,1120.03 261.60,1118.81 263.49,1117.60 C265.38,1116.38 267.28,1115.18 269.19,1114.00 C271.09,1112.81 273.00,1111.63 274.93,1110.47 C276.85,1109.30 278.77,1108.15 280.71,1107.01 C282.64,1105.87 284.58,1104.74 286.53,1103.62 C288.48,1102.50 290.43,1101.39 292.39,1100.29 C294.35,1099.19 296.32,1098.11 298.29,1097.03 C300.27,1095.95 302.25,1094.89 304.23,1093.83 C306.22,1092.78 308.21,1091.73 310.20,1090.69 C312.20,1089.66 314.20,1088.63 316.21,1087.62 C318.21,1086.60 320.23,1085.59 322.24,1084.59 C324.26,1083.60 326.28,1082.61 328.31,1081.63 C330.34,1080.65 332.37,1079.68 334.40,1078.71 C336.44,1077.75 338.48,1076.80 340.52,1075.85 C342.57,1074.91 344.62,1073.97 346.67,1073.04 C348.72,1072.11 350.78,1071.19 352.84,1070.27 C354.90,1069.36 356.96,1068.46 359.03,1067.56 C361.09,1066.66 363.16,1065.77 365.24,1064.88 C367.31,1064.00 369.39,1063.12 371.46,1062.25 C373.54,1061.38 375.62,1060.52 377.71,1059.66 C379.79,1058.80 381.88,1057.95 383.97,1057.11 C386.06,1056.26 388.15,1055.42 390.24,1054.59 C392.33,1053.76 394.43,1052.93 396.52,1052.11 C398.62,1051.29 400.72,1050.47 402.81,1049.66 C404.91,1048.85 407.01,1048.04 409.11,1047.24 C411.22,1046.44 413.32,1045.65 415.42,1044.86 C417.52,1044.06 419.63,1043.28 421.73,1042.50 C423.84,1041.71 425.94,1040.94 428.05,1040.16 C430.15,1039.39 432.24,1038.58 434.36,1037.85 C436.49,1037.12 439.73,1036.14 440.80,1035.80" fill="none" stroke="#f22a06" stroke-width="5.70" stroke-linecap="butt" stroke-linejoin="round"/>
<path d="M440.80,1035.80 C442.17,1035.37 446.30,1034.10 449.05,1033.24 C451.79,1032.38 454.54,1031.50 457.29,1030.64 C460.03,1029.78 462.79,1028.93 465.54,1028.09 C468.29,1027.25 471.05,1026.42 473.81,1025.60 C476.57,1024.78 479.33,1023.96 482.09,1023.16 C484.86,1022.36 487.62,1021.56 490.39,1020.78 C493.16,1019.99 495.93,1019.22 498.71,1018.45 C501.48,1017.68 504.26,1016.92 507.04,1016.18 C509.81,1015.43 512.60,1014.68 515.38,1013.95 C518.16,1013.22 520.95,1012.50 523.73,1011.78 C526.52,1011.07 529.31,1010.36 532.10,1009.66 C534.89,1008.96 537.69,1008.27 540.48,1007.59 C543.28,1006.91 546.08,1006.23 548.88,1005.57 C551.68,1004.90 554.48,1004.25 557.28,1003.60 C560.08,1002.95 562.89,1002.31 565.70,1001.67 C568.50,1001.04 571.31,1000.41 574.12,999.80 C576.93,999.18 579.75,998.57 582.56,997.97 C585.38,997.36 588.19,996.77 591.01,996.18 C593.83,995.59 596.65,995.01 599.47,994.44 C602.29,993.87 605.11,993.31 607.93,992.75 C610.76,992.19 613.58,991.64 616.41,991.10 C619.24,990.55 622.07,990.02 624.90,989.49 C627.73,988.96 630.56,988.44 633.39,987.92 C636.22,987.41 639.06,986.90 641.89,986.40 C644.72,985.90 647.56,985.41 650.40,984.92 C653.24,984.43 656.07,983.95 658.91,983.48 C661.75,983.00 664.59,982.54 667.44,982.07 C670.28,981.61 673.12,981.16 675.97,980.71 C678.81,980.26 681.65,979.82 684.50,979.39 C687.35,978.95 690.19,978.52 693.04,978.10 C695.89,977.67 698.74,977.26 701.59,976.85 C704.44,976.43 707.29,976.03 710.14,975.63 C712.99,975.23 715.84,974.84 718.69,974.45 C721.54,974.06 724.40,973.68 727.25,973.31 C730.10,972.93 732.96,972.56 735.81,972.19 C738.67,971.83 741.52,971.47 744.38,971.12 C747.23,970.76 750.09,970.41 752.95,970.07 C755.80,969.73 758.66,969.38 761.52,969.06 C764.38,968.73 768.67,968.26 770.10,968.10" fill="none" stroke="#f22a06" stroke-width="5.70" stroke-linecap="round" stroke-dasharray="0 25.30 17.40 20.50 17.40 20.50 17.40 20.50 17.40 20.50 17.40 20.50 17.40 20.50 17.40 20.50 17.40 20.50 17.40 20.50 17.40 20.50 17.40 20.50 17.40 20.50 17.40 20.50 17.40 20.50"/>
<path d="M104.00,1469.90 C104.33,1468.73 105.31,1465.20 105.96,1462.85 C106.62,1460.50 107.29,1458.17 107.93,1455.82 C108.58,1453.48 109.21,1451.13 109.84,1448.77 C110.47,1446.42 111.08,1444.06 111.69,1441.70 C112.30,1439.33 112.90,1436.97 113.49,1434.60 C114.08,1432.23 114.67,1429.86 115.24,1427.48 C115.82,1425.11 116.39,1422.73 116.95,1420.35 C117.51,1417.97 118.07,1415.59 118.62,1413.20 C119.17,1410.82 119.71,1408.43 120.25,1406.04 C120.79,1403.65 121.33,1401.26 121.86,1398.86 C122.39,1396.47 122.92,1394.07 123.44,1391.67 C123.96,1389.28 124.48,1386.88 125.00,1384.48 C125.51,1382.08 126.03,1379.67 126.54,1377.27 C127.05,1374.87 127.56,1372.46 128.07,1370.06 C128.58,1367.66 129.08,1365.25 129.59,1362.84 C130.10,1360.44 130.60,1358.03 131.11,1355.62 C131.62,1353.22 132.12,1350.81 132.63,1348.40 C133.14,1346.00 133.65,1343.59 134.16,1341.18 C134.67,1338.78 135.18,1336.37 135.69,1333.96 C136.21,1331.56 136.72,1329.15 137.24,1326.75 C137.76,1324.35 138.29,1321.94 138.81,1319.54 C139.34,1317.14 139.87,1314.74 140.41,1312.34 C140.94,1309.94 141.48,1307.54 142.03,1305.14 C142.57,1302.74 143.12,1300.35 143.68,1297.96 C144.24,1295.56 144.80,1293.17 145.37,1290.78 C145.94,1288.39 146.52,1286.01 147.10,1283.62 C147.69,1281.24 148.28,1278.86 148.88,1276.48 C149.48,1274.10 150.09,1271.72 150.71,1269.35 C151.33,1266.98 151.96,1264.61 152.59,1262.24 C153.23,1259.87 153.88,1257.51 154.53,1255.15 C155.19,1252.79 155.86,1250.44 156.54,1248.08 C157.22,1245.73 157.91,1243.38 158.61,1241.04 C159.32,1238.69 160.03,1236.35 160.76,1234.02 C161.49,1231.68 162.23,1229.35 162.98,1227.02 C163.74,1224.70 164.50,1222.37 165.29,1220.06 C166.07,1217.74 166.86,1215.43 167.68,1213.12 C168.49,1210.82 169.31,1208.51 170.16,1206.22 C171.00,1203.92 171.86,1201.63 172.73,1199.35 C173.61,1197.06 174.50,1194.78 175.41,1192.51 C176.33,1190.24 177.26,1187.98 178.22,1185.73 C179.18,1183.49 180.16,1181.25 181.17,1179.03 C182.19,1176.81 183.22,1174.60 184.30,1172.42 C185.38,1170.23 186.48,1168.06 187.63,1165.91 C188.78,1163.77 189.96,1161.64 191.18,1159.54 C192.41,1157.44 193.67,1155.36 194.98,1153.31 C196.29,1151.26 197.65,1149.24 199.04,1147.24 C200.43,1145.24 201.87,1143.27 203.32,1141.31 C204.78,1139.35 206.28,1137.41 207.80,1135.49 C209.31,1133.56 210.86,1131.66 212.42,1129.76 C213.97,1127.86 215.56,1125.98 217.14,1124.10 C218.73,1122.22 220.33,1120.35 221.94,1118.49 C223.54,1116.62 225.15,1114.76 226.77,1112.90 C228.38,1111.04 230.00,1109.18 231.62,1107.33 C233.25,1105.48 234.88,1103.64 236.52,1101.80 C238.16,1099.97 239.80,1098.14 241.46,1096.32 C243.11,1094.50 244.77,1092.69 246.45,1090.89 C248.12,1089.09 249.80,1087.29 251.49,1085.52 C253.18,1083.74 254.89,1081.97 256.60,1080.22 C258.31,1078.47 260.04,1076.73 261.78,1075.00 C263.52,1073.28 265.27,1071.57 267.03,1069.87 C268.79,1068.17 270.57,1066.49 272.35,1064.82 C274.14,1063.15 275.93,1061.49 277.74,1059.85 C279.55,1058.20 281.37,1056.57 283.20,1054.95 C285.02,1053.33 286.86,1051.72 288.71,1050.12 C290.56,1048.52 292.42,1046.94 294.28,1045.36 C296.15,1043.79 298.03,1042.22 299.92,1040.67 C301.80,1039.12 303.70,1037.58 305.60,1036.04 C307.50,1034.51 309.41,1032.99 311.33,1031.48 C313.25,1029.97 315.18,1028.46 317.12,1026.97 C319.05,1025.48 321.00,1023.99 322.95,1022.51 C324.90,1021.04 326.86,1019.57 328.82,1018.11 C330.78,1016.65 332.76,1015.20 334.73,1013.76 C336.71,1012.32 338.69,1010.88 340.68,1009.45 C342.67,1008.02 344.67,1006.60 346.67,1005.19 C348.67,1003.77 350.67,1002.37 352.68,1000.96 C354.70,999.56 356.71,998.17 358.73,996.78 C360.75,995.39 362.78,994.00 364.80,992.63 C366.83,991.25 368.87,989.88 370.91,988.52 C372.94,987.15 374.99,985.80 377.04,984.45 C379.09,983.10 381.14,981.76 383.20,980.43 C385.26,979.11 387.33,977.79 389.40,976.48 C391.47,975.17 393.55,973.88 395.64,972.59 C397.73,971.31 399.82,970.04 401.92,968.78 C404.02,967.52 406.12,966.27 408.24,965.04 C410.35,963.81 412.48,962.60 414.61,961.40 C416.74,960.20 418.87,959.02 421.02,957.85 C423.17,956.68 425.32,955.53 427.48,954.40 C429.65,953.27 431.78,952.09 434.00,951.06 C436.22,950.03 439.67,948.68 440.80,948.20" fill="none" stroke="#c20707" stroke-width="5.70" stroke-linecap="butt" stroke-linejoin="round"/>
<path d="M440.80,948.20 C442.12,947.51 446.05,945.39 448.69,944.03 C451.34,942.68 454.02,941.37 456.68,940.06 C459.35,938.74 462.03,937.44 464.71,936.16 C467.39,934.87 470.08,933.60 472.77,932.34 C475.46,931.07 478.16,929.83 480.86,928.59 C483.57,927.36 486.28,926.13 488.99,924.92 C491.71,923.71 494.43,922.52 497.15,921.33 C499.88,920.14 502.61,918.97 505.34,917.81 C508.08,916.65 510.82,915.50 513.57,914.36 C516.31,913.23 519.06,912.10 521.82,910.99 C524.57,909.87 527.33,908.77 530.10,907.68 C532.86,906.59 535.63,905.52 538.41,904.45 C541.18,903.38 543.96,902.33 546.74,901.28 C549.52,900.24 552.31,899.21 555.10,898.18 C557.89,897.16 560.69,896.15 563.49,895.15 C566.29,894.15 569.09,893.16 571.90,892.18 C574.71,891.21 577.52,890.24 580.33,889.28 C583.15,888.32 585.97,887.38 588.79,886.44 C591.61,885.51 594.44,884.58 597.27,883.67 C600.10,882.75 602.93,881.85 605.77,880.95 C608.61,880.06 611.45,879.17 614.29,878.30 C617.13,877.42 619.98,876.56 622.83,875.70 C625.68,874.85 628.53,874.00 631.38,873.16 C634.24,872.33 637.10,871.50 639.96,870.68 C642.82,869.87 645.68,869.06 648.55,868.26 C651.41,867.46 654.28,866.67 657.15,865.89 C660.03,865.11 662.90,864.34 665.78,863.58 C668.65,862.81 671.53,862.06 674.41,861.32 C677.29,860.57 680.17,859.83 683.06,859.11 C685.94,858.38 688.83,857.66 691.72,856.95 C694.60,856.24 697.49,855.53 700.39,854.84 C703.28,854.15 706.17,853.46 709.07,852.78 C711.96,852.10 714.86,851.43 717.76,850.77 C720.65,850.11 723.55,849.45 726.45,848.81 C729.35,848.16 732.26,847.52 735.16,846.89 C738.06,846.25 740.97,845.63 743.87,845.01 C746.78,844.40 749.68,843.79 752.59,843.18 C755.50,842.58 758.40,841.96 761.31,841.40 C764.23,840.83 768.64,840.07 770.10,839.80" fill="none" stroke="#c20707" stroke-width="5.70" stroke-linecap="round" stroke-dasharray="0 25.30 18.80 20.35 18.80 20.35 18.80 20.35 18.80 20.35 18.80 20.35 18.80 20.35 18.80 20.35 18.80 20.35 18.80 20.35 18.80 20.35 18.80 20.35 18.80 20.35 18.80 20.35 18.80 20.35"/>
<circle cx="307.4" cy="972.0" r="8.3" fill="#121212"/>
<circle cx="440.8" cy="948.2" r="8.3" fill="#121212"/>
<circle cx="440.8" cy="993.0" r="8.3" fill="#121212"/>
<circle cx="440.8" cy="1035.8" r="8.3" fill="#121212"/>
</g>
<line x1="104.00" y1="820.05" x2="104.00" y2="1471.85" stroke="#121212" stroke-width="4.30"/>
<line x1="101.85" y1="1469.90" x2="772.25" y2="1469.90" stroke="#121212" stroke-width="3.90"/>
<line x1="92.30" y1="1469.90" x2="104.00" y2="1469.90" stroke="#121212" stroke-width="3.90"/>
<line x1="92.30" y1="1361.92" x2="104.00" y2="1361.92" stroke="#121212" stroke-width="3.90"/>
<line x1="92.30" y1="1253.93" x2="104.00" y2="1253.93" stroke="#121212" stroke-width="3.90"/>
<line x1="92.30" y1="1145.95" x2="104.00" y2="1145.95" stroke="#121212" stroke-width="3.90"/>
<line x1="92.30" y1="1037.97" x2="104.00" y2="1037.97" stroke="#121212" stroke-width="3.90"/>
<line x1="92.30" y1="929.98" x2="104.00" y2="929.98" stroke="#121212" stroke-width="3.90"/>
<line x1="92.30" y1="822.00" x2="104.00" y2="822.00" stroke="#121212" stroke-width="3.90"/>
<line x1="104.00" y1="1469.90" x2="104.00" y2="1480.80" stroke="#121212" stroke-width="4.10"/>
<line x1="170.61" y1="1469.90" x2="170.61" y2="1480.80" stroke="#121212" stroke-width="4.10"/>
<line x1="237.22" y1="1469.90" x2="237.22" y2="1480.80" stroke="#121212" stroke-width="4.10"/>
<line x1="303.83" y1="1469.90" x2="303.83" y2="1480.80" stroke="#121212" stroke-width="4.10"/>
<line x1="370.44" y1="1469.90" x2="370.44" y2="1480.80" stroke="#121212" stroke-width="4.10"/>
<line x1="437.05" y1="1469.90" x2="437.05" y2="1480.80" stroke="#121212" stroke-width="4.10"/>
<line x1="503.66" y1="1469.90" x2="503.66" y2="1480.80" stroke="#121212" stroke-width="4.10"/>
<line x1="570.27" y1="1469.90" x2="570.27" y2="1480.80" stroke="#121212" stroke-width="4.10"/>
<line x1="636.88" y1="1469.90" x2="636.88" y2="1480.80" stroke="#121212" stroke-width="4.10"/>
<line x1="703.49" y1="1469.90" x2="703.49" y2="1480.80" stroke="#121212" stroke-width="4.10"/>
<line x1="770.10" y1="1469.90" x2="770.10" y2="1480.80" stroke="#121212" stroke-width="4.10"/>
<line x1="623.6" y1="1320.0" x2="675.3" y2="1320.0" stroke="#c20707" stroke-width="5.8" stroke-linecap="round"/>
<text x="686.0" y="1327.1" font-size="20" class="t">OPS-A</text>
<line x1="623.6" y1="1351.5" x2="675.3" y2="1351.5" stroke="#33e826" stroke-width="5.8" stroke-linecap="round"/>
<text x="686.0" y="1358.6" font-size="20" class="t">OPS-B</text>
<line x1="623.6" y1="1382.8" x2="675.3" y2="1382.8" stroke="#6040e5" stroke-width="5.8" stroke-linecap="round"/>
<text x="686.0" y="1389.9" font-size="20" class="t">OPS-C</text>
<line x1="623.6" y1="1413.9" x2="675.3" y2="1413.9" stroke="#4eb8b8" stroke-width="5.8" stroke-linecap="round"/>
<text x="686.0" y="1421.0" font-size="20" class="t">OPS-D</text>
<line x1="623.6" y1="1445.0" x2="675.3" y2="1445.0" stroke="#f22a06" stroke-width="5.8" stroke-linecap="round"/>
<text x="686.0" y="1452.1" font-size="20" class="t">OPS</text>
<text x="78.0" y="671.75" font-size="23.0" text-anchor="end" class="t">0</text>
<text x="78.0" y="563.64" font-size="23.0" text-anchor="end" class="t">5</text>
<text x="78.0" y="455.53" font-size="23.0" text-anchor="end" class="t">10</text>
<text x="78.0" y="347.43" font-size="23.0" text-anchor="end" class="t">15</text>
<text x="78.0" y="239.32" font-size="23.0" text-anchor="end" class="t">20</text>
<text x="78.0" y="131.21" font-size="23.0" text-anchor="end" class="t">25</text>
<text x="78.0" y="23.10" font-size="23.0" text-anchor="end" class="t">30</text>
<text x="82.2" y="1478.10" font-size="23.0" text-anchor="end" class="t">0</text>
<text x="82.2" y="1370.12" font-size="23.0" text-anchor="end" class="t">5</text>
<text x="82.2" y="1262.13" font-size="23.0" text-anchor="end" class="t">10</text>
<text x="82.2" y="1154.15" font-size="23.0" text-anchor="end" class="t">15</text>
<text x="82.2" y="1046.17" font-size="23.0" text-anchor="end" class="t">20</text>
<text x="82.2" y="938.18" font-size="23.0" text-anchor="end" class="t">25</text>
<text x="82.2" y="830.20" font-size="23.0" text-anchor="end" class="t">30</text>
<text x="104.90" y="708.1" font-size="23.0" text-anchor="middle" class="t">0</text>
<text x="184.15" y="708.1" font-size="23.0" text-anchor="middle" class="t">5</text>
<text x="263.40" y="708.1" font-size="23.0" text-anchor="middle" class="t">10</text>
<text x="342.65" y="708.1" font-size="23.0" text-anchor="middle" class="t">15</text>
<text x="421.90" y="708.1" font-size="23.0" text-anchor="middle" class="t">20</text>
<text x="501.15" y="708.1" font-size="23.0" text-anchor="middle" class="t">25</text>
<text x="580.40" y="708.1" font-size="23.0" text-anchor="middle" class="t">30</text>
<text x="659.65" y="708.1" font-size="23.0" text-anchor="middle" class="t">35</text>
<text x="738.90" y="708.1" font-size="23.0" text-anchor="middle" class="t">40</text>
<text x="104.40" y="1512.0" font-size="23.0" text-anchor="middle" class="t">0</text>
<text x="171.01" y="1512.0" font-size="23.0" text-anchor="middle" class="t">1</text>
<text x="237.62" y="1512.0" font-size="23.0" text-anchor="middle" class="t">2</text>
<text x="304.23" y="1512.0" font-size="23.0" text-anchor="middle" class="t">3</text>
<text x="370.84" y="1512.0" font-size="23.0" text-anchor="middle" class="t">4</text>
<text x="437.45" y="1512.0" font-size="23.0" text-anchor="middle" class="t">5</text>
<text x="504.06" y="1512.0" font-size="23.0" text-anchor="middle" class="t">6</text>
<text x="570.67" y="1512.0" font-size="23.0" text-anchor="middle" class="t">7</text>
<text x="637.28" y="1512.0" font-size="23.0" text-anchor="middle" class="t">8</text>
<text x="703.89" y="1512.0" font-size="23.0" text-anchor="middle" class="t">9</text>
<text x="770.50" y="1512.0" font-size="23.0" text-anchor="middle" class="t">10</text>
<text x="422.5" y="752.9" font-size="27.0" text-anchor="middle" class="t">no. of core samples</text>
<text x="431.8" y="1551.5" font-size="27.0" text-anchor="middle" class="t">no. of core samples</text>
<text transform="translate(22.4,360.6) rotate(-90)" font-size="26.8" text-anchor="middle" class="t">Expected no. of genera</text>
<text transform="translate(29.6,1163.0) rotate(-90)" font-size="26.8" text-anchor="middle" class="t">Expected no. of genera</text>
<text x="117.7" y="55.8" font-size="35.2" font-weight="bold" class="t">(a)</text>
<text x="119.7" y="864.2" font-size="35.2" font-weight="bold" class="t">(b)</text>
</svg>
</body></html>
